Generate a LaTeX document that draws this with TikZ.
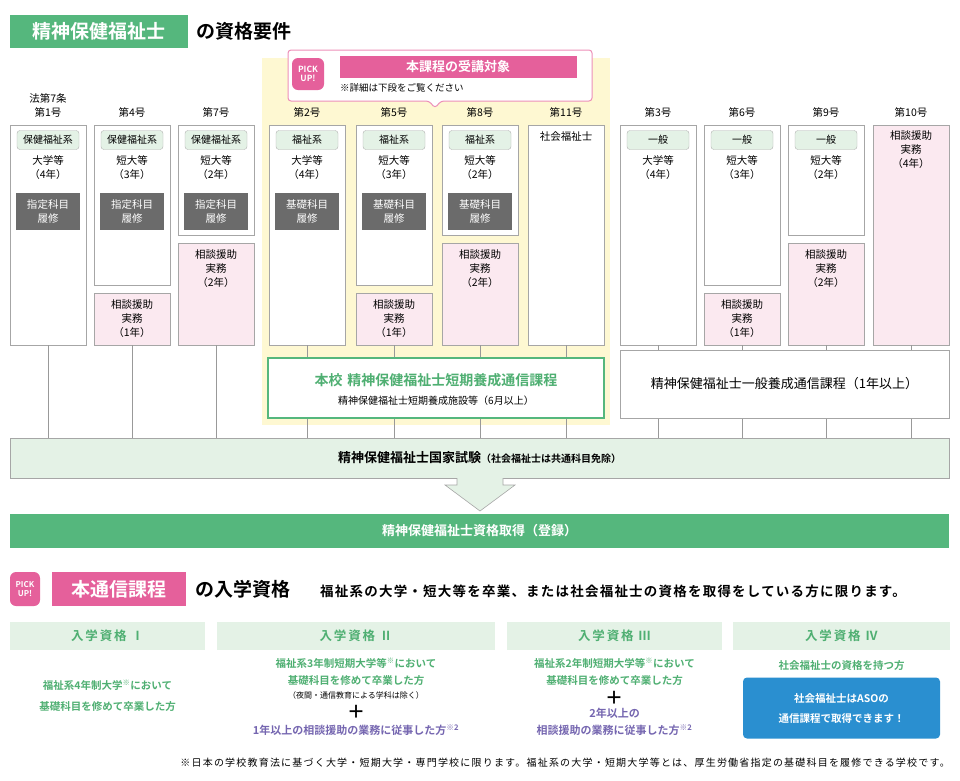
\documentclass[tikz,border=0pt]{standalone}
\usepackage{fontspec}
\setmainfont{Noto Sans CJK JP}[BoldFont={Noto Sans CJK JP Bold}]
\usetikzlibrary{positioning}
\definecolor{mgreen}{HTML}{55B77D}
\definecolor{lgreen}{HTML}{E4F2E6}
\definecolor{mpink}{HTML}{E5609B}
\definecolor{lpink}{HTML}{FBE9F0}
\definecolor{myellow}{HTML}{FEF8D2}
\definecolor{dgray}{HTML}{6B6B6B}
\definecolor{mblue}{HTML}{2A8FD0}
\definecolor{mpurple}{HTML}{7566B0}
\definecolor{tgreen}{HTML}{4FAF72}
\tikzset{
  col/.style={draw=gray!70, fill=white, line width=0.6pt, inner sep=0pt, minimum width=76pt, anchor=north},
  pinkbox/.style={col, fill=lpink},
  tag/.style={draw=gray!60, fill=lgreen, rounded corners=3pt, minimum width=62pt, minimum height=19pt, inner sep=0pt, font=\fontsize{10}{10}\selectfont},
  course/.style={fill=dgray, text=white, minimum width=64pt, minimum height=37pt, align=center, font=\fontsize{10.5}{14}\selectfont, inner sep=0pt},
  txt/.style={align=center, font=\fontsize{10.5}{14}\selectfont, inner sep=0pt},
  vline/.style={draw=gray!80, line width=0.8pt},
  head/.style={fill=lgreen, minimum height=28pt, inner sep=0pt, text=tgreen, font=\bfseries\fontsize{12.5}{12.5}\selectfont\addfontfeatures{LetterSpace=15}}
}
\begin{document}
\begin{tikzpicture}[x=1pt,y=-1pt]
\useasboundingbox (0,0) rectangle (960,780);
% title
\node[fill=mgreen, text=white, minimum width=178pt, minimum height=33pt, font=\bfseries\fontsize{19}{19}\selectfont] (title) at (99,31) {精神保健福祉士};
\node[right=8pt of title, font=\bfseries\fontsize{19}{19}\selectfont, inner sep=0pt] (titleb) {の資格要件};
% yellow area
\fill[myellow] (262,58) rectangle (610,425);
% pick up callout
\draw[mpink!70, fill=white, line width=1pt, rounded corners=3pt] (288,50) -- (592,50) -- (592,101) -- (441,101) -- (435,108) -- (429,101) -- (288,101) -- cycle;
\node[fill=mpink, text=white, rounded corners=6pt, minimum size=32pt, inner sep=0pt, align=center, font=\bfseries\fontsize{8.5}{9}\selectfont] (pick) at (308,74) {PICK\\UP!};
\node[fill=mpink, text=white, minimum width=237pt, minimum height=22pt, inner sep=0pt, font=\bfseries\fontsize{13}{13}\selectfont] (target) at (458,67) {本課程の受講対象};
\node[anchor=west, inner sep=0pt, font=\fontsize{9.5}{9.5}\selectfont] (note) at (340,88) {※詳細は下段をご覧ください};
% columns
\foreach \i/\cx/\hd/\tg/\sch/\yr/\crs/\wb/\pyr in {
  1/48/{法第7条\\第1号}/保健福祉系/大学等/4/指定科目/345/0,
  2/132/第4号/保健福祉系/短大等/3/指定科目/285/1,
  3/216/第7号/保健福祉系/短大等/2/指定科目/235/2,
  4/307/第2号/福祉系/大学等/4/基礎科目/345/0,
  5/394/第5号/福祉系/短大等/3/基礎科目/285/1,
  6/480/第8号/福祉系/短大等/2/基礎科目/235/2,
  8/658/第3号/一般/大学等/4//345/0,
  9/742/第6号/一般/短大等/3//285/1,
  10/826/第9号/一般/短大等/2//235/2}{
  \node[txt, anchor=south] (h\i) at (\cx,118) {\hd};
  \node[col, minimum height={(\wb-125)*1pt}] (w\i) at (\cx,125) {};
  \node[tag] (t\i) at (\cx,140) {\tg};
  \node[txt] (s\i) at (\cx,168) {\sch\\（\yr 年）};
  \ifx\crs\empty\else
    \node[course] (k\i) at (\cx,211) {\crs\\履修};
  \fi
  \ifnum\wb<345
    \pgfmathtruncatemacro{\py}{\wb+8}
    \node[pinkbox, minimum height={(337-\wb)*1pt}] (p\i) at (\cx,\py) {};
    \node[txt, anchor=north] (pt\i) at (\cx,\py+6) {相談援助\\実務\\（\pyr 年）};
  \fi
  \coordinate (b\i) at (\cx,345);
}
\node[txt, anchor=south] (h7) at (566,118) {第11号};
\node[col, minimum height=220pt] (w7) at (566,125) {};
\node[txt, anchor=north] (s7) at (566,131) {社会福祉士};
\coordinate (b7) at (566,345);
\node[txt, anchor=south] (h11) at (911,118) {第10号};
\node[pinkbox, minimum height=220pt] (w11) at (911,125) {};
\node[txt, anchor=north] (s11) at (911,130) {相談援助\\実務\\（4年）};
\coordinate (b11) at (911,345);
% exam
\node[draw=gray!70, fill=lgreen, line width=0.6pt, minimum width=939pt, minimum height=40pt, inner sep=0pt, font=\bfseries\fontsize{13}{13}\selectfont] (exam) at (479.5,458) {精神保健福祉士国家試験{\fontsize{10}{10}\selectfont （社会福祉士は共通科目免除）}};
\foreach \i in {1,...,11}
  \draw[vline] (b\i) -- (b\i |- exam.north);
% arrow
\draw[gray!70, fill=lgreen, line width=0.6pt] (457,478) -- (457,485) -- (445,485) -- (480,511) -- (515,485) -- (503,485) -- (503,478);
% courses
\node[draw=mgreen, fill=white, line width=1.2pt, minimum width=336pt, minimum height=60pt, inner sep=0pt] (honkou) at (436,388) {};
\node[txt, text=tgreen, font=\bfseries\fontsize{14}{14}\selectfont] (honkoua) at (436,380) {本校\,\,精神保健福祉士短期養成通信課程};
\node[txt, font=\fontsize{10}{10}\selectfont] (honkoub) at (436,401) {精神保健福祉士短期養成施設等（6月以上）};
\node[draw=gray!70, fill=white, line width=0.6pt, minimum width=329pt, minimum height=68pt, inner sep=0pt, font=\fontsize{13}{13}\selectfont] (ippan) at (784.5,384) {精神保健福祉士一般養成通信課程（1年以上）};
% result
\node[fill=mgreen, text=white, minimum width=939pt, minimum height=34pt, inner sep=0pt, font=\bfseries\fontsize{13}{13}\selectfont] (result) at (479.5,531) {精神保健福祉士資格取得（登録）};
% admission
\node[fill=mpink, text=white, rounded corners=6pt, minimum width=30pt, minimum height=34pt, inner sep=0pt, align=center, font=\bfseries\fontsize{8}{9}\selectfont] (pick2) at (25,589) {PICK\\UP!};
\node[fill=mpink, text=white, minimum width=134pt, minimum height=34pt, inner sep=0pt, font=\bfseries\fontsize{19}{19}\selectfont] (tsushin) at (119,589) {本通信課程};
\node[right=9pt of tsushin, inner sep=0pt, font=\bfseries\fontsize{19}{19}\selectfont] (nyugaku) {の入学資格};
\node[anchor=west, inner sep=0pt, font=\bfseries\fontsize{13.5}{13.5}\selectfont\addfontfeatures{LetterSpace=9}] (desc) at (320,591) {福祉系の大学・短大等を卒業、または社会福祉士の資格を取得をしている方に限ります。};
\node[head, minimum width=195pt] (q1) at (107.5,636) {入学資格 Ⅰ};
\node[head, minimum width=278pt] (q2) at (356,636) {入学資格 Ⅱ};
\node[head, minimum width=215pt] (q3) at (614.5,636) {入学資格 Ⅲ};
\node[head, minimum width=217pt] (q4) at (841.5,636) {入学資格 Ⅳ};
\node[txt, text=tgreen, font=\bfseries\fontsize{10.5}{21}\selectfont] (a1) at (107.5,696) {福祉系4年制大学\textsuperscript{※}において\\基礎科目を修めて卒業した方};
\node[txt, text=tgreen, font=\bfseries\fontsize{10.5}{17}\selectfont] (a2) at (356,672) {福祉系3年制短期大学等\textsuperscript{※}において\\基礎科目を修めて卒業した方};
\node[txt, font=\fontsize{8}{8}\selectfont] (a2n) at (356,695) {（夜間・通信教育による学科は除く）};
\node[txt, font=\bfseries\fontsize{18}{18}\selectfont] (plus2) at (356,712) {＋};
\node[txt, text=mpurple, font=\bfseries\fontsize{11}{11}\selectfont] (a2b) at (356,730) {1年以上の相談援助の業務に従事した方\textsuperscript{※2}};
\node[txt, text=tgreen, font=\bfseries\fontsize{10.5}{17}\selectfont] (a3) at (614.5,672) {福祉系2年制短期大学等\textsuperscript{※}において\\基礎科目を修めて卒業した方};
\node[txt, font=\bfseries\fontsize{18}{18}\selectfont] (plus3) at (614.5,698) {＋};
\node[txt, text=mpurple, font=\bfseries\fontsize{11}{17}\selectfont] (a3b) at (614.5,722) {2年以上の\\相談援助の業務に従事した方\textsuperscript{※2}};
\node[txt, text=tgreen, font=\bfseries\fontsize{10.5}{10}\selectfont] (a4) at (841.5,666) {社会福祉士の資格を持つ方};
\node[fill=mblue, text=white, rounded corners=4pt, minimum width=197pt, minimum height=61pt, inner sep=0pt, align=center, font=\bfseries\fontsize{10.5}{20}\selectfont] (aso) at (841.5,708) {社会福祉士はASOの\\通信課程で取得できます！};
\node[anchor=east, inner sep=0pt, font=\fontsize{10}{10}\selectfont\addfontfeatures{LetterSpace=12}] (foot) at (950,763) {※日本の学校教育法に基づく大学・短期大学・専門学校に限ります。福祉系の大学・短期大学等とは、厚生労働省指定の基礎科目を履修できる学校です。};
\end{tikzpicture}
\end{document}
